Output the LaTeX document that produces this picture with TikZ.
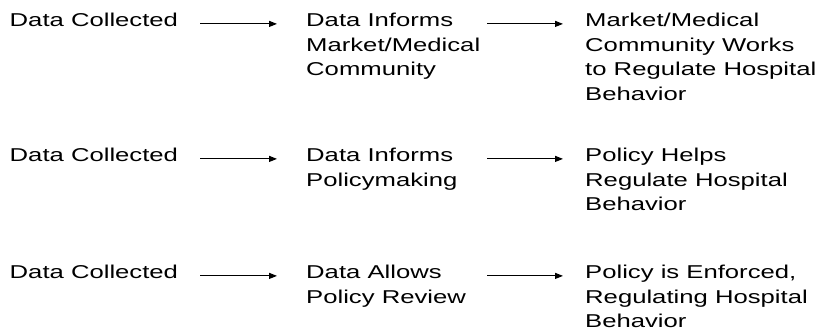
\documentclass[tikz,border=0pt]{standalone}
\usepackage{fontspec}
\setmainfont{Liberation Sans}[FakeStretch=1.38]
\usetikzlibrary{arrows.meta}
\begin{document}
\begin{tikzpicture}[x=1pt,y=-1pt,
  txt/.style={anchor=north west,inner sep=0pt,align=left,
              font=\fontsize{18.6}{24.5}\selectfont},
  flow/.style={-{Triangle[length=8pt,width=6pt]},line width=1.1pt}]
\useasboundingbox (0,0) rectangle (820,333);

% row 1
\node[txt] (a1) at (9.5,9.55)  {\strut Data Collected};
\node[txt] (b1) at (306,9.55)  {\strut Data Informs\\Market/Medical\\Community};
\node[txt] (c1) at (585,9.55)  {\strut Market/Medical\\Community Works\\to Regulate Hospital\\Behavior};

% row 2
\node[txt] (a2) at (9.5,144.55)  {\strut Data Collected};
\node[txt] (b2) at (306,144.55)  {\strut Data Informs\\Policymaking};
\node[txt] (c2) at (585,144.55)  {\strut Policy Helps\\Regulate Hospital\\Behavior};

% row 3
\node[txt] (a3) at (9.5,261.55)  {\strut Data Collected};
\node[txt] (b3) at (306,261.55)  {\strut Data Allows\\Policy Review};
\node[txt] (c3) at (585,261.55)  {\strut Policy is Enforced,\\Regulating Hospital\\Behavior};

% arrows, at mid height of the first text line
\foreach \r in {1,2,3}{
  \path ([yshift=3pt]a\r.base) coordinate (y\r);
  \draw[flow] ([xshift=-106pt]y\r -| b\r.west) -- ([xshift=-29pt]y\r -| b\r.west);
  \draw[flow] ([xshift=181pt]y\r -| b\r.west) -- ([xshift=-22pt]y\r -| c\r.west);
}
\end{tikzpicture}
\end{document}
